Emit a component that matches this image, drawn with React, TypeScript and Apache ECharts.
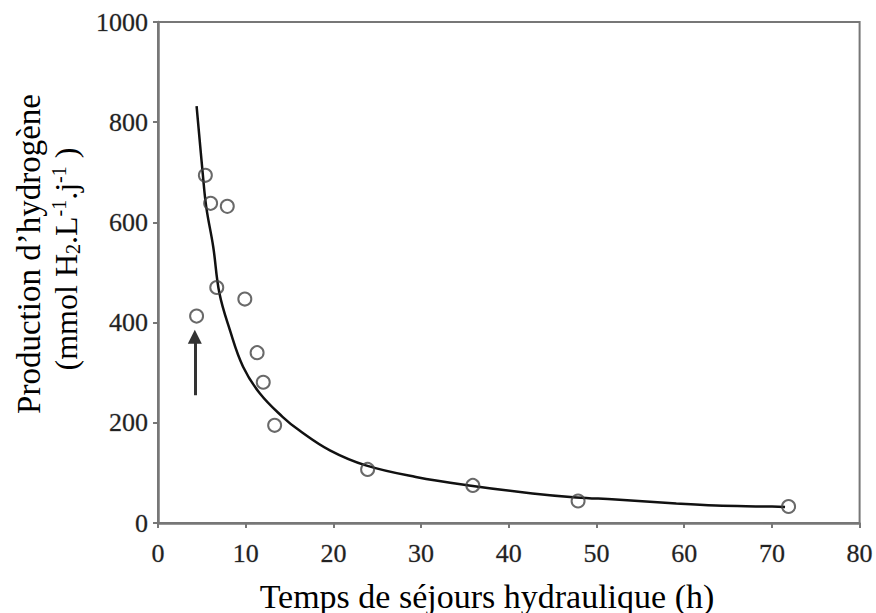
import React, { useEffect, useRef } from "react";
import * as echarts from "echarts";

// Measured data points (hydraulic retention time h, H2 production)
const pointX = [4.4, 5.4, 6.0, 7.9, 6.7, 9.9, 11.3, 12.0, 13.3, 23.9, 35.9, 47.9, 71.9];
const pointY = [413, 694, 638, 632, 470, 447, 340, 281, 195, 107, 75, 44, 33];

// Fitted curve
const curveX = [4.4, 5.1, 5.5, 6.3, 7.0, 8.2, 9.7, 11.6, 14.2, 16.1, 19.6, 23.7, 29.4, 35.9, 42.7, 47.7, 52.2, 59.1, 63.6, 69.3, 71.5];
const curveY = [832, 698, 631, 551, 459, 385, 312, 259, 212, 185, 145, 115, 92, 74, 59, 51, 47, 39, 35, 33, 32];

// Arrow pointing at the outlier
const arrowX = 4.2;
const arrowY = [255, 372];

const xTicks = [0, 80, 10];
const yTicks = [0, 1000, 200];

const xTitle = "Temps de séjours hydraulique (h)";
const yTitle1 = "Production d’hydrogène";

const SERIF = "Liberation Serif";

export default function App() {
  const ref = useRef<HTMLDivElement>(null);
  useEffect(() => {
    if (!ref.current) return;
    const chart = echarts.init(ref.current, null, { renderer: "svg" });
    const axisColor = "#777";
    const labelStyle = {
      color: "#222",
      fontFamily: SERIF,
      fontSize: 26,
      fontWeight: "normal",
      textBorderColor: "rgba(60,60,60,0.35)",
      textBorderWidth: 0.8,
      formatter: (v: number) => String(v),
    };
    chart.setOption({
      animation: false,
      backgroundColor: "#fff",
      textStyle: { fontFamily: SERIF },
      grid: {
        left: 158,
        top: 22,
        width: 702,
        height: 501,
        show: true,
        borderColor: axisColor,
        borderWidth: 2,
        backgroundColor: "transparent",
      },
      xAxis: {
        type: "value",
        min: xTicks[0],
        max: xTicks[1],
        interval: xTicks[2],
        splitLine: { show: false },
        axisLine: { show: true, lineStyle: { color: axisColor, width: 2.5 } },
        axisTick: { show: true, inside: false, length: 5, lineStyle: { color: axisColor, width: 2 } },
        axisLabel: { ...labelStyle, margin: 17 },
      },
      yAxis: {
        type: "value",
        min: yTicks[0],
        max: yTicks[1],
        interval: yTicks[2],
        splitLine: { show: false },
        axisLine: { show: true, lineStyle: { color: axisColor, width: 2.5 } },
        axisTick: { show: true, inside: false, length: 5, lineStyle: { color: axisColor, width: 2 } },
        axisLabel: { ...labelStyle, margin: 10 },
      },
      series: [
        {
          type: "line",
          data: curveX.map((x, i) => [x, curveY[i]]),
          smooth: 0.4,
          symbol: "none",
          lineStyle: { color: "#111", width: 2.5 },
          z: 2,
        },
        {
          type: "scatter",
          data: pointX.map((x, i) => [x, pointY[i]]),
          symbol: "circle",
          symbolSize: 13,
          itemStyle: { color: "rgba(255,255,255,0)", borderColor: "#444", borderWidth: 2 },
          z: 3,
          markLine: {
            silent: true,
            animation: false,
            symbol: ["none", "triangle"],
            symbolSize: 14,
            label: { show: false },
            lineStyle: { color: "#333", width: 3, type: "solid" },
            data: [[{ coord: [arrowX, arrowY[0]] }, { coord: [arrowX, arrowY[1]] }]],
          },
        },
      ],
      graphic: [
        {
          type: "text",
          x: 487,
          y: 596,
          style: {
            text: xTitle,
            fontFamily: SERIF,
            fontSize: 34,
            fill: "#000",
            align: "center",
            verticalAlign: "middle",
            textAlign: "center",
            textVerticalAlign: "middle",
          },
        },
        {
          type: "text",
          x: 29,
          y: 254,
          rotation: Math.PI / 2,
          style: {
            text: yTitle1,
            fontFamily: SERIF,
            fontSize: 33,
            fill: "#000",
            align: "center",
            verticalAlign: "middle",
            textAlign: "center",
            textVerticalAlign: "middle",
          },
        },
        {
          type: "text",
          x: 66,
          y: 259,
          rotation: Math.PI / 2,
          style: {
            text: "{n|(mmol H}{sb|2}{n|.L}{sp|-1}{n|.j}{sp|-1}{n| )}",
            fontFamily: SERIF,
            fontSize: 32,
            fill: "#000",
            align: "center",
            verticalAlign: "middle",
            textAlign: "center",
            textVerticalAlign: "middle",
            rich: {
              n: { fontFamily: SERIF, fontSize: 32, fill: "#000", color: "#000", lineHeight: 34 },
              sb: { fontFamily: SERIF, fontSize: 20, fill: "#000", color: "#000", verticalAlign: "bottom", lineHeight: 22 },
              sp: { fontFamily: SERIF, fontSize: 20, fill: "#000", color: "#000", verticalAlign: "top", lineHeight: 26 },
            },
          },
        },
      ],
    });
    return () => chart.dispose();
  }, []);
  return (
    <div
      ref={ref}
      style={{ position: "absolute", left: 0, top: 0, width: 876, height: 613 }}
    />
  );
}
